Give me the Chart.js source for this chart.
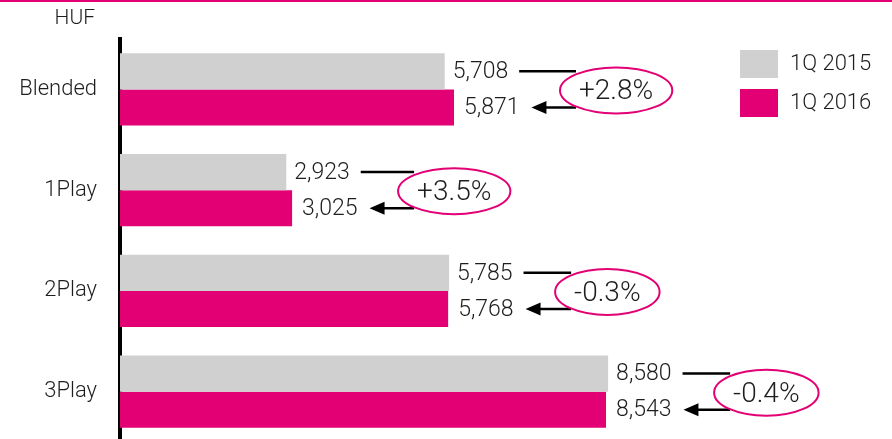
<!DOCTYPE html>
<html><head><meta charset="utf-8">
<script src="https://cdn.jsdelivr.net/npm/chart.js@4"></script>
<style>
html,body{margin:0;padding:0;overflow:hidden;background:#fff;width:892px;height:439px}
#wrap{position:relative;width:892px;height:442px}
</style></head>
<body><div id="wrap"><canvas id="c"></canvas></div>
<script>
const categories = ['Blended', '1Play', '2Play', '3Play'];
const series2015 = [5708, 2923, 5785, 8580];
const series2016 = [5871, 3025, 5768, 8543];
const changeLabels = ['+2.8%', '+3.5%', '-0.3%', '-0.4%'];
const seriesNames = ['1Q 2015', '1Q 2016'];
const unitLabel = 'HUF';

const MAG = '#e20074';
const GRAY = '#d0d0d0';
const TXT = '#1e1e1e';
const FONT = 'Roboto';
const W = '300 ';

const fmt = v => v.toLocaleString('en-US');

const annot = {
  id: 'annot',
  afterDraw(chart) {
    const ctx = chart.ctx;
    const m0 = chart.getDatasetMeta(0), m1 = chart.getDatasetMeta(1);
    ctx.save();
    ctx.fillStyle = MAG;
    ctx.fillRect(0, 0, chart.width, 2);
    ctx.fillStyle = TXT;
    ctx.font = W + '21px ' + FONT;
    ctx.textAlign = 'right';
    ctx.textBaseline = 'middle';
    ctx.fillText(unitLabel, 95, 19);
    const cols = [GRAY, MAG];
    ctx.textAlign = 'left';
    ctx.font = W + '22px ' + FONT;
    seriesNames.forEach((n, k) => {
      const y = 50 + k * 39;
      ctx.fillStyle = cols[k];
      ctx.fillRect(740, y, 38, 28);
      ctx.fillStyle = TXT;
      ctx.fillText(n, 790, y + 14);
    });
    categories.forEach((c, i) => {
      const b0 = m0.data[i], b1 = m1.data[i];
      ctx.font = W + '23px ' + FONT;
      ctx.textAlign = 'left';
      ctx.textBaseline = 'middle';
      ctx.fillStyle = TXT;
      const t0 = fmt(series2015[i]), t1 = fmt(series2016[i]);
      const x0 = b0.x + 8, x1 = b1.x + 10;
      ctx.fillText(t0, x0, b0.y + 1);
      ctx.fillText(t1, x1, b1.y + 1);
      const w0 = ctx.measureText(t0).width, w1 = ctx.measureText(t1).width;

      ctx.font = W + '28px ' + FONT;
      const tc = changeLabels[i];
      const wc = ctx.measureText(tc).width;
      const rx = wc / 2 + 19, ry = 23;
      const left = Math.max(b0.x, b1.x) + 106;
      const cx = left + rx, cy = (b0.y + b1.y) / 2 + 1;

      ctx.strokeStyle = '#000';
      ctx.lineWidth = 2.5;
      ctx.beginPath();
      ctx.moveTo(x0 + w0 + 11, b0.y);
      ctx.lineTo(left + 16, b0.y);
      ctx.stroke();
      const tip = x1 + w1 + 12;
      ctx.beginPath();
      ctx.moveTo(tip + 12, b1.y);
      ctx.lineTo(left + 16, b1.y);
      ctx.stroke();
      ctx.fillStyle = '#000';
      ctx.beginPath();
      ctx.moveTo(tip, b1.y);
      ctx.lineTo(tip + 15, b1.y - 6.5);
      ctx.lineTo(tip + 15, b1.y + 6.5);
      ctx.closePath();
      ctx.fill();
      ctx.strokeStyle = MAG;
      ctx.lineWidth = 2;
      ctx.beginPath();
      ctx.ellipse(cx, cy, rx, ry, 0, 0, Math.PI * 2);
      ctx.stroke();
      ctx.fillStyle = TXT;
      ctx.textAlign = 'center';
      ctx.fillText(tc, cx, cy + 2);
    });
    ctx.restore();
  }
};

new Chart(document.getElementById('c'), {
  type: 'bar',
  data: {
    labels: categories,
    datasets: [
      { label: seriesNames[0], data: series2015, backgroundColor: GRAY, borderWidth: 0 },
      { label: seriesNames[1], data: series2016, backgroundColor: MAG, borderWidth: 0 }
    ]
  },
  options: {
    indexAxis: 'y',
    responsive: true,
    maintainAspectRatio: false,
    animation: false,
    devicePixelRatio: 1,
    layout: { padding: { top: 39, right: 0, bottom: 0, left: 0 } },
    datasets: { bar: { categoryPercentage: 0.715, barPercentage: 1.0 } },
    plugins: { legend: { display: false }, tooltip: { enabled: false } },
    scales: {
      x: { display: false, min: 0, max: 13570 },
      y: {
        z: 1,
        afterFit: s => { s.width = 120; s.paddingTop = 0; s.paddingBottom = 0; },
        grid: { display: false, drawTicks: false },
        border: { display: true, color: '#000', width: 4 },
        ticks: { padding: 23, color: TXT, font: { family: FONT, size: 22, weight: 300 } }
      }
    }
  },
  plugins: [annot]
});
</script>
</body></html>
